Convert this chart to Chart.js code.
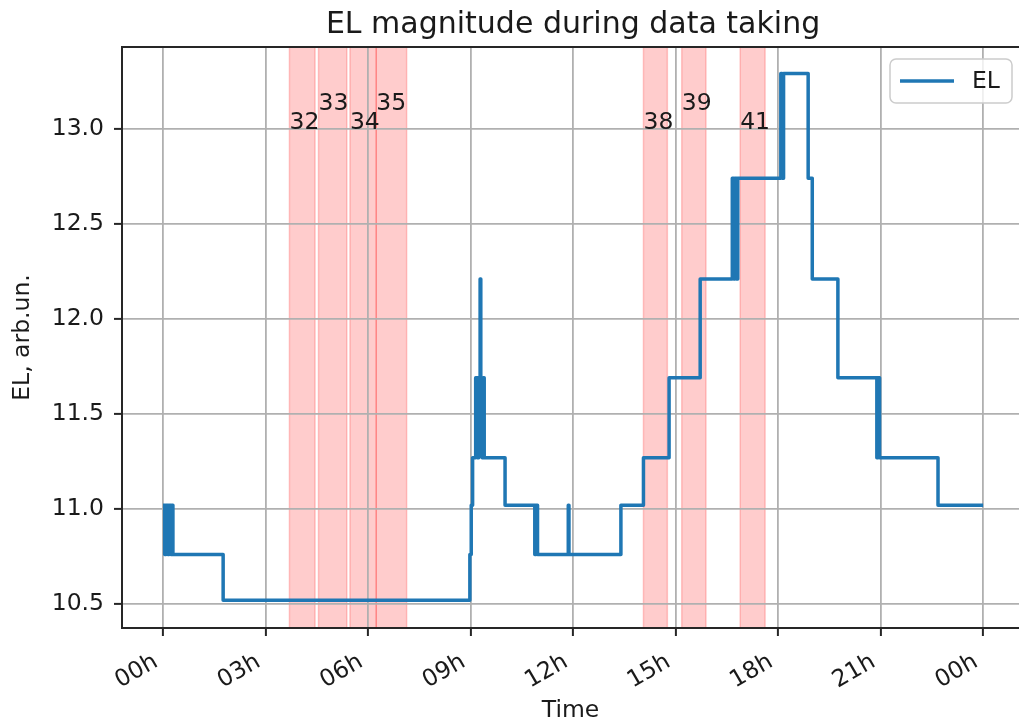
<!DOCTYPE html>
<html>
<head>
<meta charset="utf-8">
<script src="https://cdn.jsdelivr.net/npm/chart.js@4.4.0/dist/chart.umd.min.js"></script>
<style>
  html, body { margin: 0; padding: 0; background: #fff; }
  #wrap { width: 1019px; height: 723px; }
</style>
</head>
<body>
<div id="wrap"><canvas id="chart" width="1019" height="723"></canvas></div>
<script>
// time of each change (hours since midnight) and the EL level from that moment on
const timeHours = [0.00, 0.05, 0.09, 0.14, 0.18, 0.23, 0.27, 0.29, 1.76,
    8.98, 9.02, 9.06, 9.15, 9.20, 9.24, 9.28, 9.30, 9.34, 9.37, 9.40, 9.44,
    10.01, 10.88, 10.92, 10.96, 11.86, 11.88,
    13.40, 14.06, 14.81, 15.72, 16.66, 16.70, 16.74, 16.78, 16.82,
    18.08, 18.12, 18.16, 18.88, 19.00, 19.75, 20.89, 20.93, 20.97, 22.68, 24.00];
const elValues = [11.02, 10.76, 11.02, 10.76, 11.02, 10.76, 11.02, 10.76, 10.52,
    10.76, 11.02, 11.27, 11.69, 11.27, 11.69, 12.21, 11.69, 11.27, 11.69, 11.27, 11.27,
    11.02, 10.76, 11.02, 10.76, 11.02, 10.76,
    11.02, 11.27, 11.69, 12.21, 12.74, 12.21, 12.74, 12.21, 12.74,
    13.29, 12.74, 13.29, 12.74, 12.21, 11.69, 11.27, 11.69, 11.27, 11.02, 11.02];

// shaded runs
const bandStarts = [3.70, 4.55, 5.47, 6.24, 14.06, 15.18, 16.89];
const bandEnds   = [4.45, 5.38, 6.24, 7.13, 14.76, 15.89, 17.62];
const bandLabels = ['32', '33', '34', '35', '38', '39', '41'];
const bandLabelY = [13.0, 13.1, 13.0, 13.1, 13.0, 13.1, 13.0];

const xTicks = [0, 3, 6, 9, 12, 15, 18, 21, 24];
const xTickLabels = ['00h', '03h', '06h', '09h', '12h', '15h', '18h', '21h', '00h'];
const yTicks = [10.5, 11.0, 11.5, 12.0, 12.5, 13.0];

const FONT = '"DejaVu Sans", sans-serif';
const FS = 23.5;
const INK = '#1a1a1a';
const LINE = '#1f77b4';

const points = timeHours.map((t, i) => ({x: t, y: elValues[i]}));

const overlay = {
    id: 'overlay',
    beforeDraw(chart) {
        // bands sit under the grid like axvspan
        const {ctx, chartArea: a, scales: {x}} = chart;
        ctx.save();
        ctx.beginPath();
        ctx.rect(a.left, a.top, a.width, a.height);
        ctx.clip();
        ctx.fillStyle = 'rgba(255,0,0,0.2)';
        ctx.strokeStyle = 'rgba(255,0,0,0.2)';
        ctx.lineWidth = 1.5;
        bandStarts.forEach((s, i) => {
            const x0 = x.getPixelForValue(s);
            const x1 = x.getPixelForValue(bandEnds[i]);
            ctx.fillRect(x0, a.top, x1 - x0, a.height);
            ctx.strokeRect(x0, a.top, x1 - x0, a.height);
        });
        ctx.restore();
    },
    afterDatasetsDraw(chart) {
        const {ctx, scales: {x, y}} = chart;
        ctx.save();
        ctx.font = FS + 'px ' + FONT;
        ctx.fillStyle = INK;
        ctx.textAlign = 'left';
        ctx.textBaseline = 'alphabetic';
        bandLabels.forEach((lab, i) => {
            ctx.fillText(lab, x.getPixelForValue(bandStarts[i]), y.getPixelForValue(bandLabelY[i]));
        });
        ctx.restore();
    },
    afterDraw(chart) {
        const {ctx, chartArea: a, scales: {x}} = chart;
        ctx.save();
        // top spine
        ctx.strokeStyle = '#262626';
        ctx.lineWidth = 2;
        ctx.beginPath();
        ctx.moveTo(a.left - 1, a.top);
        ctx.lineTo(a.right, a.top);
        ctx.stroke();

        // title, centred on the axes box
        ctx.font = '30px ' + FONT;
        ctx.fillStyle = INK;
        ctx.textAlign = 'center';
        ctx.textBaseline = 'alphabetic';
        ctx.fillText('EL magnitude during data taking', x.getPixelForValue(12), 33);

        // legend box
        const w = 122, h = 44;
        const bx = a.right - 7 - w, by = a.top + 12;
        ctx.beginPath();
        ctx.roundRect(bx, by, w, h, 6);
        ctx.fillStyle = 'rgba(255,255,255,0.8)';
        ctx.fill();
        ctx.strokeStyle = '#cccccc';
        ctx.lineWidth = 1.5;
        ctx.stroke();
        ctx.strokeStyle = LINE;
        ctx.lineWidth = 3.5;
        ctx.beginPath();
        ctx.moveTo(bx + 10, by + 22);
        ctx.lineTo(bx + 64, by + 22);
        ctx.stroke();
        ctx.font = FS + 'px ' + FONT;
        ctx.fillStyle = INK;
        ctx.textAlign = 'left';
        ctx.textBaseline = 'middle';
        ctx.fillText(chart.data.datasets[0].label, bx + 82, by + 23);
        ctx.restore();
    }
};

const config = {
    type: 'line',
    data: {
        datasets: [{
            label: 'EL',
            data: points,
            borderColor: LINE,
            borderWidth: 3.5,
            pointRadius: 0,
            stepped: true,
            fill: false,
            tension: 0,
            borderJoinStyle: 'round'
        }]
    },
    options: {
        responsive: false,
        animation: false,
        devicePixelRatio: 1,
        layout: { padding: {top: 47, left: 0, right: 0, bottom: 0} },
        plugins: {
            legend: { display: false },
            tooltip: { enabled: false },
            title: { display: false }
        },
        scales: {
            x: {
                type: 'linear',
                min: -1.2,
                max: 25.05,
                afterBuildTicks: s => { s.ticks = xTicks.map(v => ({value: v})); },
                afterFit: s => { s.height = 95; },
                grid: { color: '#b0b0b0', lineWidth: 1.8, tickColor: '#262626', tickLength: 8, tickWidth: 2 },
                border: { color: '#262626', width: 2 },
                ticks: {
                    autoSkip: false,
                    minRotation: 30,
                    maxRotation: 30,
                    padding: 12,
                    labelOffset: -7,
                    color: INK,
                    font: { family: FONT, size: FS },
                    callback: (v, i) => xTickLabels[i]
                },
                title: { display: true, text: 'Time', color: INK, font: { family: FONT, size: FS }, padding: {top: 0, bottom: -2} }
            },
            y: {
                min: 10.374,
                max: 13.43,
                afterBuildTicks: s => { s.ticks = yTicks.map(v => ({value: v})); },
                afterFit: s => { s.width = 122; },
                grid: { color: '#b0b0b0', lineWidth: 1.8, tickColor: '#262626', tickLength: 8, tickWidth: 2 },
                border: { color: '#262626', width: 2 },
                ticks: {
                    padding: 10,
                    color: INK,
                    font: { family: FONT, size: FS },
                    callback: v => v.toFixed(1)
                },
                title: { display: true, text: 'EL, arb.un.', color: INK, font: { family: FONT, size: FS }, padding: {top: 9, bottom: 0} }
            }
        }
    },
    plugins: [overlay]
};

const myChart = new Chart(document.getElementById('chart'), config);
</script>
</body>
</html>
